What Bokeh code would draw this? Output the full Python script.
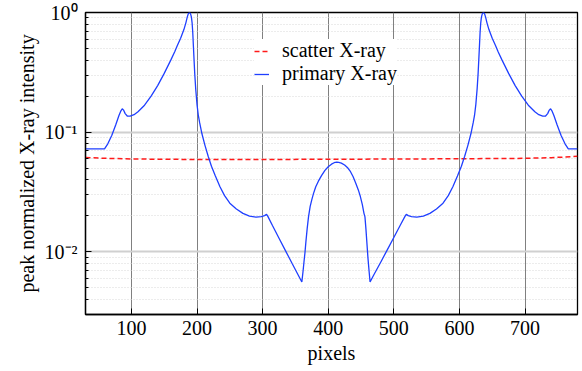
from bokeh.plotting import figure
from bokeh.models import Range1d, FixedTicker
from bokeh.embed import file_html
from bokeh.resources import INLINE

# ---- data ----
scatter_x = [30, 60, 100, 150, 200, 300, 400, 500, 600, 700, 740, 760, 780]
scatter_y = [0.0615, 0.0605, 0.0598, 0.0594, 0.0592, 0.0592, 0.0594, 0.0597,
             0.0600, 0.0605, 0.0613, 0.0620, 0.0630]

primary_x = [30, 59, 64, 70, 76, 81, 84, 86, 88, 90.5, 94, 98, 104, 110, 120, 130,
             140, 150, 160, 166, 170, 175, 180, 183, 185, 186.5, 188, 189.5, 190.5,
             191.5, 192.5, 193.5, 194.5, 195.5, 196.5, 198, 200, 202, 204, 207.5,
             212, 217, 222, 228, 235, 242, 250, 260, 270, 280, 290, 298, 303, 306,
             308, 315, 325, 335, 345, 355, 359.8,
             361.5, 363, 364.5, 366, 368, 370, 372.5, 375, 377.5, 381, 385, 390,
             395, 400, 405, 409, 413, 416, 420, 425, 430, 434, 438, 442, 446, 449,
             452, 454.5, 456, 457.5, 459, 460.5, 462, 463.8,
             470, 480, 490, 500, 510, 517, 519, 522, 527, 535, 545, 555, 565, 575,
             583, 590, 597, 603, 608, 613, 617.5, 621, 623, 625, 627, 628.5, 629.5,
             630.5, 631.5, 632.5, 633.5, 634.5, 635.5, 637, 638.5, 640, 642, 645,
             650, 655, 659, 665, 675, 685, 695, 705, 715, 721, 727, 731, 734.5, 737,
             739, 741, 744, 749, 755, 761, 766, 780]
primary_y = [0.0727, 0.0727, 0.080, 0.094, 0.115, 0.138, 0.151, 0.157, 0.153,
             0.143, 0.136, 0.136, 0.140, 0.148, 0.168, 0.200, 0.245, 0.310, 0.400,
             0.470, 0.530, 0.610, 0.720, 0.820, 0.910, 0.970, 1.000, 0.990, 0.960,
             0.910, 0.820, 0.680, 0.520, 0.400, 0.310, 0.230, 0.170, 0.138, 0.120,
             0.097, 0.078, 0.063, 0.052, 0.043, 0.035, 0.0295, 0.0255, 0.0228,
             0.0210, 0.0199, 0.0195, 0.0197, 0.0201, 0.0206, 0.0198, 0.0166, 0.0130,
             0.0102, 0.0080, 0.0063, 0.0056,
             0.0068, 0.0082, 0.0098, 0.0122, 0.0158, 0.0197, 0.0240, 0.0273, 0.0307,
             0.0350, 0.0390, 0.0436, 0.0480, 0.0515, 0.0541, 0.0556, 0.0562, 0.0560,
             0.0552, 0.0532, 0.0502, 0.0468, 0.0425, 0.0375, 0.0328, 0.0290, 0.0248,
             0.0210, 0.0196, 0.0155, 0.0118, 0.0090, 0.0072, 0.0056,
             0.0065, 0.0082, 0.0104, 0.0132, 0.0168, 0.0198, 0.0206, 0.0201, 0.0197,
             0.0195, 0.0199, 0.0210, 0.0228, 0.0255, 0.0295, 0.035, 0.043, 0.052,
             0.063, 0.078, 0.097, 0.120, 0.138, 0.170, 0.230, 0.310, 0.400, 0.520,
             0.680, 0.820, 0.910, 0.960, 0.990, 1.000, 0.970, 0.910, 0.820, 0.720,
             0.610, 0.530, 0.470, 0.400, 0.310, 0.245, 0.200, 0.168, 0.148, 0.140,
             0.136, 0.136, 0.143, 0.153, 0.157, 0.151, 0.138, 0.115, 0.094, 0.080,
             0.0727, 0.0727]

x_ticks = [100, 200, 300, 400, 500, 600, 700]
y_major = [0.01, 0.1, 1.0]
y_major_labels = ["10\u207b\u00b2", "10\u207b\u00b9", "10\u2070"]
y_minor = [0.003, 0.004, 0.005, 0.006, 0.007, 0.008, 0.009,
           0.02, 0.03, 0.04, 0.05, 0.06, 0.07, 0.08, 0.09,
           0.2, 0.3, 0.4, 0.5, 0.6, 0.7, 0.8, 0.9]

FONT = "Liberation Serif"

p = figure(width=580, height=368, y_axis_type="log",
           x_range=Range1d(30, 780), y_range=Range1d(0.003, 1.0),
           output_backend="svg", toolbar_location=None,
           min_border_left=85, min_border_top=12, min_border_right=3,
           min_border_bottom=54)

p.outline_line_color = "black"
p.outline_line_width = 1.3
p.background_fill_color = "white"
p.border_fill_color = "white"

# grids
p.xgrid.ticker = FixedTicker(ticks=x_ticks)
p.xgrid.grid_line_color = "#808080"
p.xgrid.grid_line_width = 1
p.ygrid.ticker = FixedTicker(ticks=y_major, minor_ticks=y_minor)
p.ygrid.grid_line_color = "#d0d0d0"
p.ygrid.grid_line_width = 2
p.ygrid.minor_grid_line_color = "#d8d8d8"
p.ygrid.minor_grid_line_dash = "1 2"
p.ygrid.minor_grid_line_width = 1

# axes
xa = p.xaxis[0]
xa.ticker = FixedTicker(ticks=x_ticks)
xa.axis_label = "pixels"
ya = p.yaxis[0]
ya.ticker = FixedTicker(ticks=y_major, minor_ticks=y_minor)
ya.major_label_overrides = {t: l for t, l in zip(y_major, y_major_labels)}
ya.axis_label = "peak normalized X-ray intensity"
for ax in (xa, ya):
    ax.axis_line_color = "black"
    ax.axis_line_width = 1.3
    ax.major_tick_in = 6
    ax.major_tick_out = 0
    ax.minor_tick_in = 3
    ax.minor_tick_out = 0
    ax.major_tick_line_color = "black"
    ax.minor_tick_line_color = "black"
    ax.major_label_text_font = FONT
    ax.major_label_text_font_size = "20px"
    ax.major_label_text_color = "black"
    ax.axis_label_text_font = FONT
    ax.axis_label_text_font_size = "20px"
    ax.axis_label_text_font_style = "normal"
    ax.axis_label_text_color = "black"
xa.major_label_standoff = 6
xa.axis_label_standoff = 4
ya.major_label_standoff = 8
ya.axis_label_standoff = 4

p.line(scatter_x, scatter_y, line_color="#ff1a1a", line_width=1.5,
       line_dash="5 3", legend_label="scatter X-ray")
p.line(primary_x, primary_y, line_color="#1f3fff", line_width=1.3,
       legend_label="primary X-ray")

lg = p.legend[0]
lg.location = (169, 229)
lg.border_line_color = None
lg.background_fill_color = "white"
lg.background_fill_alpha = 1.0
lg.label_text_font = FONT
lg.label_text_font_size = "20px"
lg.label_text_color = "black"
lg.glyph_width = 15
lg.glyph_height = 20
lg.label_height = 20
lg.label_standoff = 13
lg.spacing = 0
lg.padding = 5
lg.margin = 0

open("out.html", "w").write(file_html(p, INLINE))
